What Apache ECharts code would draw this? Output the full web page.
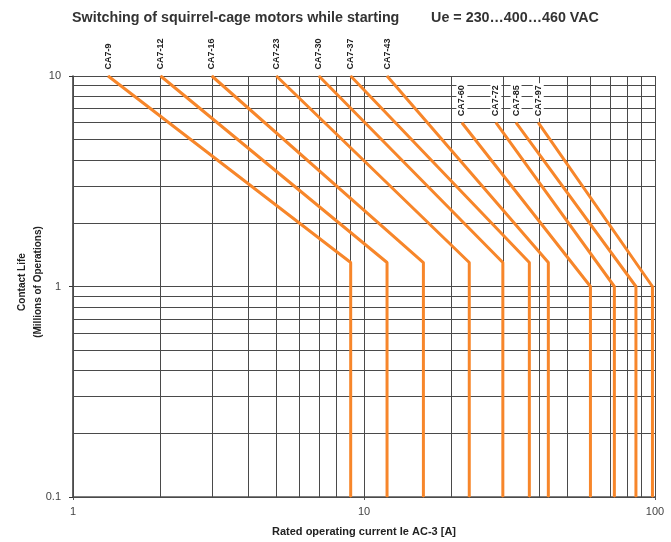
<!DOCTYPE html>
<html>
<head>
<meta charset="utf-8">
<script src="https://cdn.jsdelivr.net/npm/echarts@6/dist/echarts.min.js"></script>
<style>
html,body{margin:0;padding:0;background:#fff;}
#chart{width:671px;height:542px;}
</style>
</head>
<body>
<div id="chart"></div>
<script>
// ---- data ----
const contactorNames = ['CA7-9','CA7-12','CA7-16','CA7-23','CA7-30','CA7-37','CA7-43','CA7-60','CA7-72','CA7-85','CA7-97'];
const startCurrent = [1.32, 2, 3, 5, 7, 9, 12, 21.7, 28.4, 33.3, 39.7];
const startLife    = [10, 10, 10, 10, 10, 10, 10, 6, 6, 6, 6];
const kneeCurrent  = [9, 12, 16, 23, 30, 37, 43, 60, 72.5, 86, 98];
const kneeLife     = [1.3, 1.3, 1.3, 1.3, 1.3, 1.3, 1.3, 1, 1, 1, 1];
const endLife      = [0.1, 0.1, 0.1, 0.1, 0.1, 0.1, 0.1, 0.1, 0.1, 0.1, 0.1];
const xGridValues = [1,2,3,4,5,6,7,8,9,10,20,30,40,50,60,70,80,90,100];
const yGridValues = [0.1,0.2,0.3,0.4,0.5,0.6,0.7,0.8,0.9,1,2,3,4,5,6,7,8,9,10];
const titleText = 'Switching of squirrel-cage motors while starting        Ue = 230…400…460 VAC';
const xAxisName = 'Rated operating current Ie AC-3 [A]';
const yAxisName = 'Contact Life\n(Millions of Operations)';

const orange = '#f7862a';
const gridColor = '#4a4a4a';

const series = contactorNames.map((name, i) => ({
  type: 'line',
  name: name,
  symbol: 'circle',
  symbolSize: 1,
  showSymbol: true,
  animation: false,
  itemStyle: { color: orange },
  lineStyle: { color: orange, width: 3 },
  z: 5,
  data: [
    { value: [startCurrent[i], startLife[i]],
      label: {
        show: true, formatter: name, position: 'top', distance: 4,
        rotate: 90, align: 'left', verticalAlign: 'middle',
        fontFamily: 'Liberation Sans, Arial', fontWeight: 'bold', fontSize: 9, color: '#222',
        backgroundColor: i >= 7 ? '#fff' : 'transparent', padding: [1, 2, 1, 2]
      } },
    [kneeCurrent[i], kneeLife[i]],
    [kneeCurrent[i], endLife[i]]
  ]
}));

// grid lines via markLine on a carrier series
series.push({
  type: 'line',
  data: [],
  silent: true,
  animation: false,
  z: 1,
  markLine: {
    silent: true,
    animation: false,
    symbol: 'none',
    label: { show: false },
    lineStyle: { type: 'solid', color: gridColor, width: 1 },
    data: xGridValues.map(v => ({ xAxis: v })).concat(yGridValues.map(v => ({ yAxis: v })))
  }
});

const chart = echarts.init(document.getElementById('chart'), null, { renderer: 'canvas' });
chart.setOption({
  animation: false,
  backgroundColor: '#fff',
  title: {
    text: titleText,
    left: 'center',
    top: 6,
    textStyle: { fontFamily: 'Liberation Sans, Arial', fontWeight: 'bold', fontSize: 14.3, color: '#333' }
  },
  grid: { left: 73, right: 16, top: 76, bottom: 43, containLabel: false },
  xAxis: {
    type: 'log', logBase: 10, min: 1, max: 100,
    name: xAxisName, nameLocation: 'middle', nameGap: 29,
    nameTextStyle: { fontFamily: 'Liberation Sans, Arial', fontWeight: 'bold', fontSize: 11, color: '#222' },
    axisLine: { lineStyle: { color: '#555', width: 1.5 } },
    axisTick: { show: true, length: 3, lineStyle: { color: '#555' } },
    axisLabel: { fontFamily: 'Liberation Sans, Arial', fontSize: 11, color: '#444', margin: 9 },
    splitLine: { show: false }
  },
  yAxis: {
    type: 'log', logBase: 10, min: 0.1, max: 10,
    axisLine: { show: true, lineStyle: { color: '#333', width: 1.5 } },
    axisTick: { show: true, length: 4, lineStyle: { color: '#333' } },
    axisLabel: { fontFamily: 'Liberation Sans, Arial', fontSize: 11, color: '#444', margin: 12,
      formatter: v => (v < 1 ? String(Math.round(v * 10) / 10) : String(Math.round(v))) },
    splitLine: { show: false }
  },
  graphic: [{
    type: 'text',
    x: 30, y: 282,
    rotation: Math.PI / 2,
    style: {
      text: yAxisName,
      fontFamily: 'Liberation Sans, Arial', fontWeight: 'bold', fontSize: 10,
      fill: '#222', align: 'center', verticalAlign: 'middle', lineHeight: 16
    }
  }],
  series: series
});
</script>
</body>
</html>
